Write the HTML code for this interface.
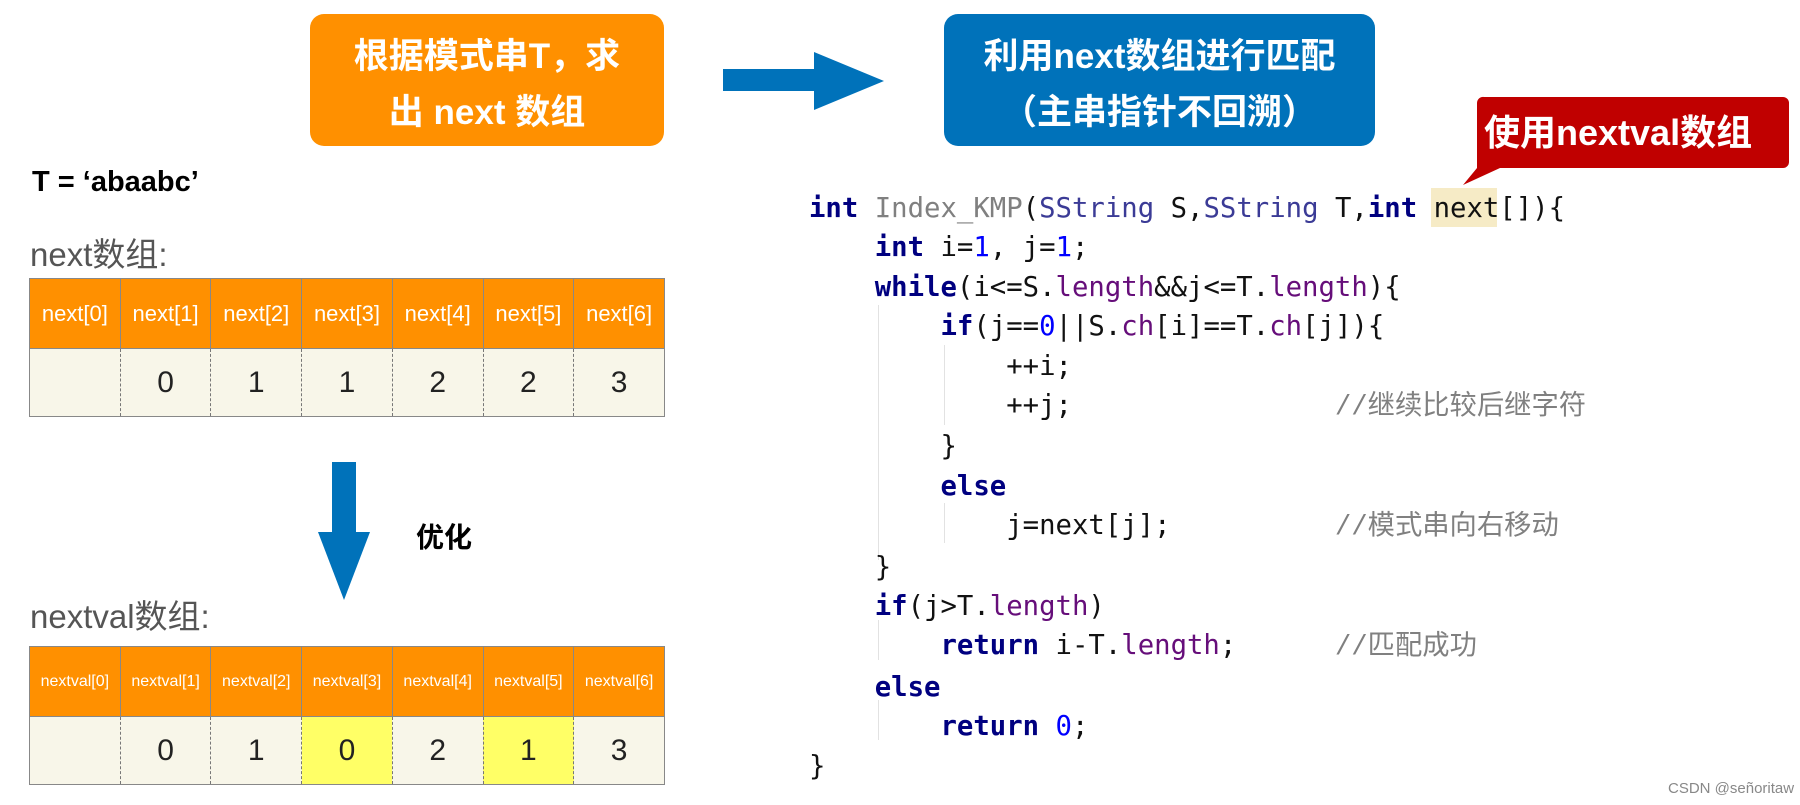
<!DOCTYPE html>
<html><head><meta charset="utf-8"><style>
body{margin:0;width:1800px;height:805px;background:#fff;position:relative;overflow:hidden;font-family:"Liberation Sans","Noto Sans CJK SC",sans-serif}
.a{position:absolute}
.box{position:absolute;border-radius:14px;color:#fff;font-weight:bold;font-size:35px;text-align:center;line-height:56px}
table{position:absolute;border-collapse:collapse;left:29px;width:636px;table-layout:fixed}
td{border:1px solid #888;text-align:center;padding:0}
tr.h td{background:#FF9000;color:#fff;height:69px;font-size:22px}
tr.b td{background:#F8F6E9;height:67px;font-size:30px;color:#222;border-left:1px dashed #777;border-right:1px dashed #777}
tr.b td:first-child{border-left:1px solid #888}
tr.b td:last-child{border-right:1px solid #888}
.y{background:#FFFF66!important}
.code{position:absolute;font-family:"DejaVu Sans Mono","Liberation Mono","Noto Sans CJK SC",monospace;font-size:27.3px;white-space:pre;color:#111;line-height:39.4px}
.k{color:#000080;font-weight:bold}.p{color:#660E7A}.n{color:#0000FF}.c{color:#808080;font-family:"Liberation Mono","Noto Sans CJK SC",monospace}.g{color:#808080}.t{color:#3B3B96}
.gd{position:absolute;width:1px;background:#e2e2e2}
</style></head><body>
<div class="box" style="left:310px;top:14px;width:354px;height:132px;background:#FF9000;padding-top:15px;box-sizing:border-box">根据模式串T，求<br>出 next 数组</div>
<svg class="a" style="left:720px;top:50px" width="170" height="62"><rect x="3" y="19" width="93" height="22" fill="#0072BA"/><polygon points="94,2 164,31 94,60" fill="#0072BA"/></svg>
<div class="box" style="left:944px;top:14px;width:431px;height:132px;background:#0072BA;padding-top:15px;box-sizing:border-box">利用next数组进行匹配<br>（主串指针不回溯）</div>
<svg class="a" style="left:1460px;top:95px" width="335" height="95"><path d="M24 2 H323 a6 6 0 0 1 6 6 V67 a6 6 0 0 1 -6 6 H40 L3 90 L17 73 V8 a6 6 0 0 1 7 -6Z" fill="#C00000"/></svg>
<div class="a" style="left:1484px;top:105px;color:#fff;font-weight:bold;font-size:36px;line-height:56px">使用nextval数组</div>
<div class="a" style="left:32px;top:166px;font-weight:bold;font-size:29px">T = ‘abaabc’</div>
<div class="a" style="left:30px;top:228px;font-size:33px;color:#555">next数组:</div>
<table style="top:278px"><tr class="h"><td>next[0]</td><td>next[1]</td><td>next[2]</td><td>next[3]</td><td>next[4]</td><td>next[5]</td><td>next[6]</td></tr>
<tr class="b"><td></td><td>0</td><td>1</td><td>1</td><td>2</td><td>2</td><td>3</td></tr></table>
<svg class="a" style="left:318px;top:462px" width="54" height="140"><rect x="14" y="0" width="24" height="72" fill="#0072BA"/><polygon points="0,70 52,70 26,138" fill="#0072BA"/></svg>
<div class="a" style="left:416px;top:516px;font-weight:bold;font-size:28px">优化</div>
<div class="a" style="left:30px;top:590px;font-size:33px;color:#555">nextval数组:</div>
<table style="top:646px"><tr class="h"><td style="font-size:16px">nextval[0]</td><td style="font-size:16px">nextval[1]</td><td style="font-size:16px">nextval[2]</td><td style="font-size:16px">nextval[3]</td><td style="font-size:16px">nextval[4]</td><td style="font-size:16px">nextval[5]</td><td style="font-size:16px">nextval[6]</td></tr>
<tr class="b"><td></td><td>0</td><td>1</td><td class="y">0</td><td>2</td><td class="y">1</td><td>3</td></tr></table>
<div class="a" style="left:1431px;top:188px;width:66px;height:39px;background:#F6EBC6"></div>
<div class="gd" style="left:878px;top:305px;height:255px"></div>
<div class="gd" style="left:944px;top:345px;height:80px"></div>
<div class="gd" style="left:944px;top:503px;height:40px"></div>
<div class="gd" style="left:878px;top:620px;height:40px"></div>
<div class="gd" style="left:878px;top:700px;height:40px"></div>
<div class="code" style="left:809px;top:189px"><span class="k">int</span> <span class="g">Index_KMP</span>(<span class="t">SString</span> S,<span class="t">SString</span> T,<span class="k">int</span> next[]){
    <span class="k">int</span> i=<span class="n">1</span>, j=<span class="n">1</span>;
    <span class="k">while</span>(i&lt;=S.<span class="p">length</span>&amp;&amp;j&lt;=T.<span class="p">length</span>){
        <span class="k">if</span>(j==<span class="n">0</span>||S.<span class="p">ch</span>[i]==T.<span class="p">ch</span>[j]){
            ++i;
            ++j;                <span class="c">//继续比较后继字符</span>
        }
        <span class="k">else</span>
            j=next[j];          <span class="c">//模式串向右移动</span>
    }
    <span class="k">if</span>(j&gt;T.<span class="p">length</span>)
        <span class="k">return</span> i-T.<span class="p">length</span>;      <span class="c">//匹配成功</span>
    <span class="k">else</span>
        <span class="k">return</span> <span class="n">0</span>;
}</div>
<div class="a" style="left:1668px;top:780px;font-size:15px;color:#888;white-space:nowrap">CSDN @señoritaw</div>
</body></html>
